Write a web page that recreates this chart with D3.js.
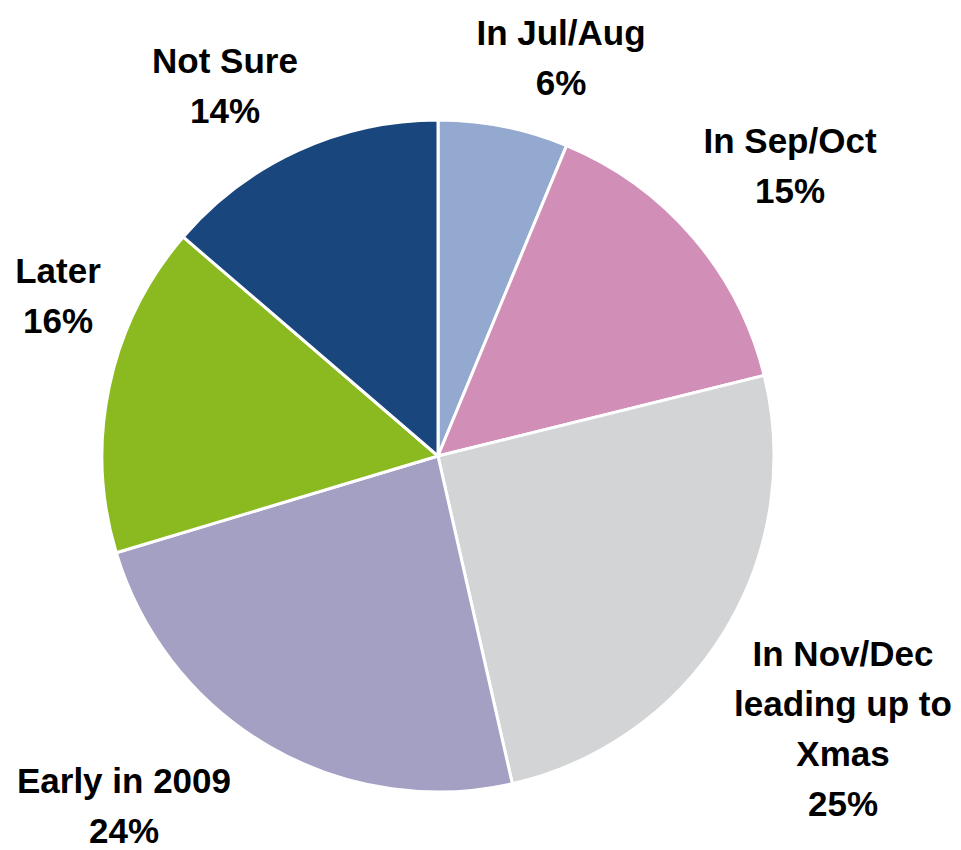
<!DOCTYPE html>
<html><head><meta charset="utf-8">
<script src="https://cdn.jsdelivr.net/npm/d3@7"></script>
<style>html,body{margin:0;padding:0;background:#fff;}</style>
</head><body>
<svg id="chart" width="961" height="850"></svg>
<script>
const categories = ["In Jul/Aug", "In Sep/Oct", "In Nov/Dec leading up to Xmas", "Early in 2009", "Later", "Not Sure"];
const values = [6.25, 14.9, 25.3, 23.9, 15.95, 13.7];
const labelLines = [["In Jul/Aug"], ["In Sep/Oct"], ["In Nov/Dec", "leading up to", "Xmas"], ["Early in 2009"], ["Later"], ["Not Sure"]];
const colors = ["#94a9d0", "#d18fb7", "#d3d4d6", "#a4a0c4", "#8aba1f", "#19467c"];
// label anchor positions (x center, first baseline y)
const labelLayout = [[561, 45], [790, 153], [843, 666], [124, 793], [58, 283], [225, 73]];

const svg = d3.select("#chart");
const cx = 438, cy = 456, r = 336;
const pie = d3.pie().sort(null).value(d => d)(values);
const arc = d3.arc().innerRadius(0).outerRadius(r);
const color = d3.scaleOrdinal().domain(categories).range(colors);

const g = svg.append("g").attr("transform", `translate(${cx},${cy})`);
g.selectAll("path").data(pie).join("path")
  .attr("d", arc)
  .attr("fill", (d, i) => color(categories[i]))
  .attr("stroke", "#fff").attr("stroke-width", 3).attr("stroke-linejoin", "round");

const lh = 50;
labelLayout.forEach((p, i) => {
  const t = svg.append("text")
    .attr("x", p[0]).attr("y", p[1])
    .attr("text-anchor", "middle")
    .attr("font-family", "'Liberation Sans', Arial, sans-serif")
    .attr("font-weight", "bold").attr("font-size", 35).attr("fill", "#000");
  const lines = labelLines[i].concat([Math.round(values[i]) + "%"]);
  lines.forEach((s, j) => {
    t.append("tspan").attr("x", p[0]).attr("y", p[1] + j * lh).text(s);
  });
});
</script>
</body></html>
